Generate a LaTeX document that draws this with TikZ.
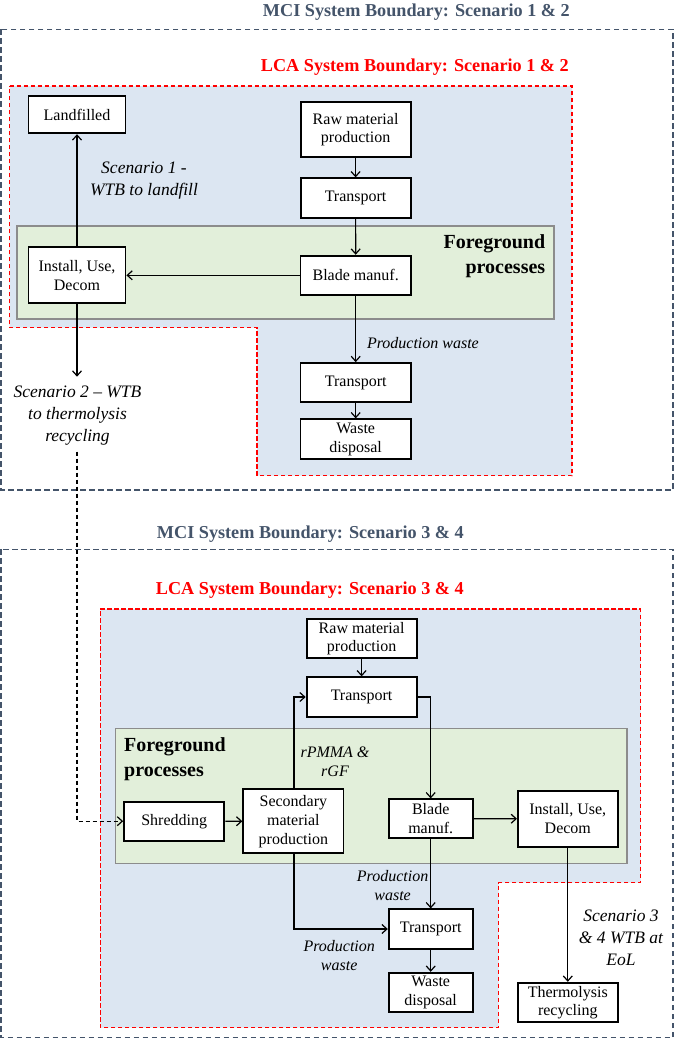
\documentclass[tikz,border=0pt]{standalone}
\usepackage{fontspec}
\setmainfont{Liberation Serif}
\usetikzlibrary{arrows.meta}
\definecolor{mciblue}{HTML}{44546A}
\definecolor{lcared}{HTML}{FF0000}
\definecolor{bgblue}{HTML}{DCE6F2}
\definecolor{bggreen}{HTML}{E2EFDA}
\definecolor{fgborder}{HTML}{8C8C8C}
\tikzset{
  procbox/.style={draw=black, line width=1.8pt, fill=white, inner sep=0pt, align=center,
    font=\fontsize{16}{18.5}\selectfont},
  conn/.style={line width=1.2pt, -{Straight Barb[length=5pt,width=9pt,line width=1.2pt]}},
  plainline/.style={line width=1.2pt},
  mciline/.style={draw=mciblue, line width=1.2pt, dash pattern=on 5.5pt off 3.5pt},
  lcaline/.style={draw=lcared, fill=bgblue, line width=1.3pt, dash pattern=on 4.5pt off 2.5pt},
  fgbox/.style={draw=fgborder, fill=bggreen, line width=1.5pt},
  mcilabel/.style={font=\bfseries\fontsize{18.2}{20}\selectfont, text=mciblue, inner sep=0pt},
  lcalabel/.style={font=\bfseries\fontsize{18.2}{20}\selectfont, text=lcared, inner sep=0pt},
  fglabel/.style={font=\bfseries\fontsize{20}{25}\selectfont, inner sep=0pt},
  itlabel/.style={font=\itshape\fontsize{17.5}{22}\selectfont, inner sep=0pt, align=center},
  itsmall/.style={font=\itshape\fontsize{16}{19}\selectfont, inner sep=0pt, align=center},
}
\begin{document}
\begin{tikzpicture}[x=1pt,y=-1pt]
\useasboundingbox (0,0) rectangle (675,1039);

% ---------------- Scenario 1 & 2 ----------------
\draw[mciline] (1,29.3) rectangle (673,490);
\node[mcilabel, anchor=base east] (mci1) at (570,16) {MCI System Boundary: Scenario 1 \& 2};
\node[lcalabel, anchor=base east] (lca1) at (569,71) {LCA System Boundary: Scenario 1 \& 2};
\path[lcaline] (9.5,86) -- (572,86) -- (572,475.7) -- (257,475.7) -- (257,327.7) -- (9.5,327.7) -- cycle;
\path[fgbox] (17.2,226) rectangle (554,319);
\node[fglabel, align=right, anchor=east] (fg1) at (545.4,256.3) {Foreground\\processes};

\node[procbox, minimum width=97pt, minimum height=37.6pt] (land) at (77,114.5) {Landfilled};
\node[procbox, minimum width=110pt, minimum height=55.6pt] (raw1) at (355.6,129.5) {Raw material\\production};
\node[procbox, minimum width=110pt, minimum height=39.4pt] (tr1) at (355.6,198) {Transport};
\node[procbox, minimum width=97pt, minimum height=56pt] (inst1) at (77,275.3) {Install, Use,\\Decom};
\node[procbox, minimum width=110.5pt, minimum height=39.3pt] (blade1) at (355.7,275.3) {Blade manuf.};
\node[procbox, minimum width=110.5pt, minimum height=39.3pt] (tr2) at (355.7,382.7) {Transport};
\node[procbox, minimum width=110.5pt, minimum height=40pt] (wd1) at (355.7,439.3) {Waste\\disposal};

\node[itlabel] (sc1) at (144,181) {Scenario 1 -\\WTB to landfill};
\node[itlabel] (sc2) at (77.5,415.7) {Scenario 2 -- WTB\\to thermolysis\\recycling};
\node[itsmall, anchor=west] (pw1) at (366.8,343.3) {Production waste};

\coordinate (s2end) at (77,376.7);
\coordinate (dstart) at (77,451.7);

\draw[conn] (raw1) -- (tr1);
\draw[conn] (tr1) -- (blade1);
\draw[conn] (blade1) -- (inst1);
\draw[conn] (inst1) -- (land);
\draw[conn] (inst1) -- (s2end);
\draw[conn] (blade1) -- (tr2);
\draw[conn] (tr2) -- (wd1);

% ---------------- Scenario 3 & 4 ----------------
\draw[mciline] (1,549.3) rectangle (673,1037.7);
\node[mcilabel, anchor=base east] (mci2) at (464,538.5) {MCI System Boundary: Scenario 3 \& 4};
\node[lcalabel, anchor=base east] (lca2) at (464,594) {LCA System Boundary: Scenario 3 \& 4};
\path[lcaline] (100.3,609) -- (640.5,609) -- (640.5,882.7) -- (498.5,882.7) -- (498.5,1027.7) -- (100.3,1027.7) -- cycle;
\path[fgbox] (115.4,728.7) rectangle (626.8,863.3);
\node[fglabel, align=left, anchor=west] (fg2) at (124,759.2) {Foreground\\processes};

\node[procbox, minimum width=110pt, minimum height=39pt] (raw2) at (361.6,638.8) {Raw material\\production};
\node[procbox, minimum width=110pt, minimum height=39.4pt] (tr3) at (361.6,697) {Transport};
\node[procbox, minimum width=100.3pt, minimum height=39pt] (shred) at (174.2,821.2) {Shredding};
\node[procbox, minimum width=100.3pt, minimum height=64pt, font=\fontsize{16}{19}\selectfont] (sec) at (293.4,821.3) {Secondary\\material\\production};
\node[procbox, minimum width=84pt, minimum height=39pt] (blade2) at (430.7,818.8) {Blade\\manuf.};
\node[procbox, minimum width=99.8pt, minimum height=56pt] (inst2) at (567.8,818.7) {Install, Use,\\Decom};
\node[procbox, minimum width=84pt, minimum height=39.4pt] (tr4) at (430.7,929) {Transport};
\node[procbox, minimum width=84pt, minimum height=39.6pt] (wd2) at (430.7,992.5) {Waste\\disposal};
\node[procbox, minimum width=99.8pt, minimum height=39.6pt] (therm) at (567.8,1002.5) {Thermolysis\\recycling};

\node[itsmall] (rpmma) at (335,762) {rPMMA \&\\rGF};
\node[itsmall] (pw2) at (392.6,886) {Production\\waste};
\node[itsmall] (pw3) at (339.2,955.7) {Production\\waste};
\node[itlabel] (sc3) at (621,938) {Scenario 3\\\& 4 WTB at\\EoL};

\draw[plainline, dash pattern=on 4pt off 3pt, -{Straight Barb[length=5pt,width=9pt,line width=1.2pt]}] (dstart) |- (shred.west);
\draw[conn] (raw2) -- (tr3);
\draw[conn] (shred) -- (sec);
\draw[conn] ([xshift=0.6pt]sec.north) |- (tr3.west);
\draw[conn] (tr3.east) -| (blade2.north);
\draw[conn] (blade2) -- (inst2);
\draw[conn] (blade2) -- (tr4);
\draw[conn] ([xshift=0.6pt]sec.south) |- (tr4.west);
\draw[conn] (tr4) -- (wd2);
\draw[conn] (inst2) -- (therm);
\end{tikzpicture}
\end{document}
